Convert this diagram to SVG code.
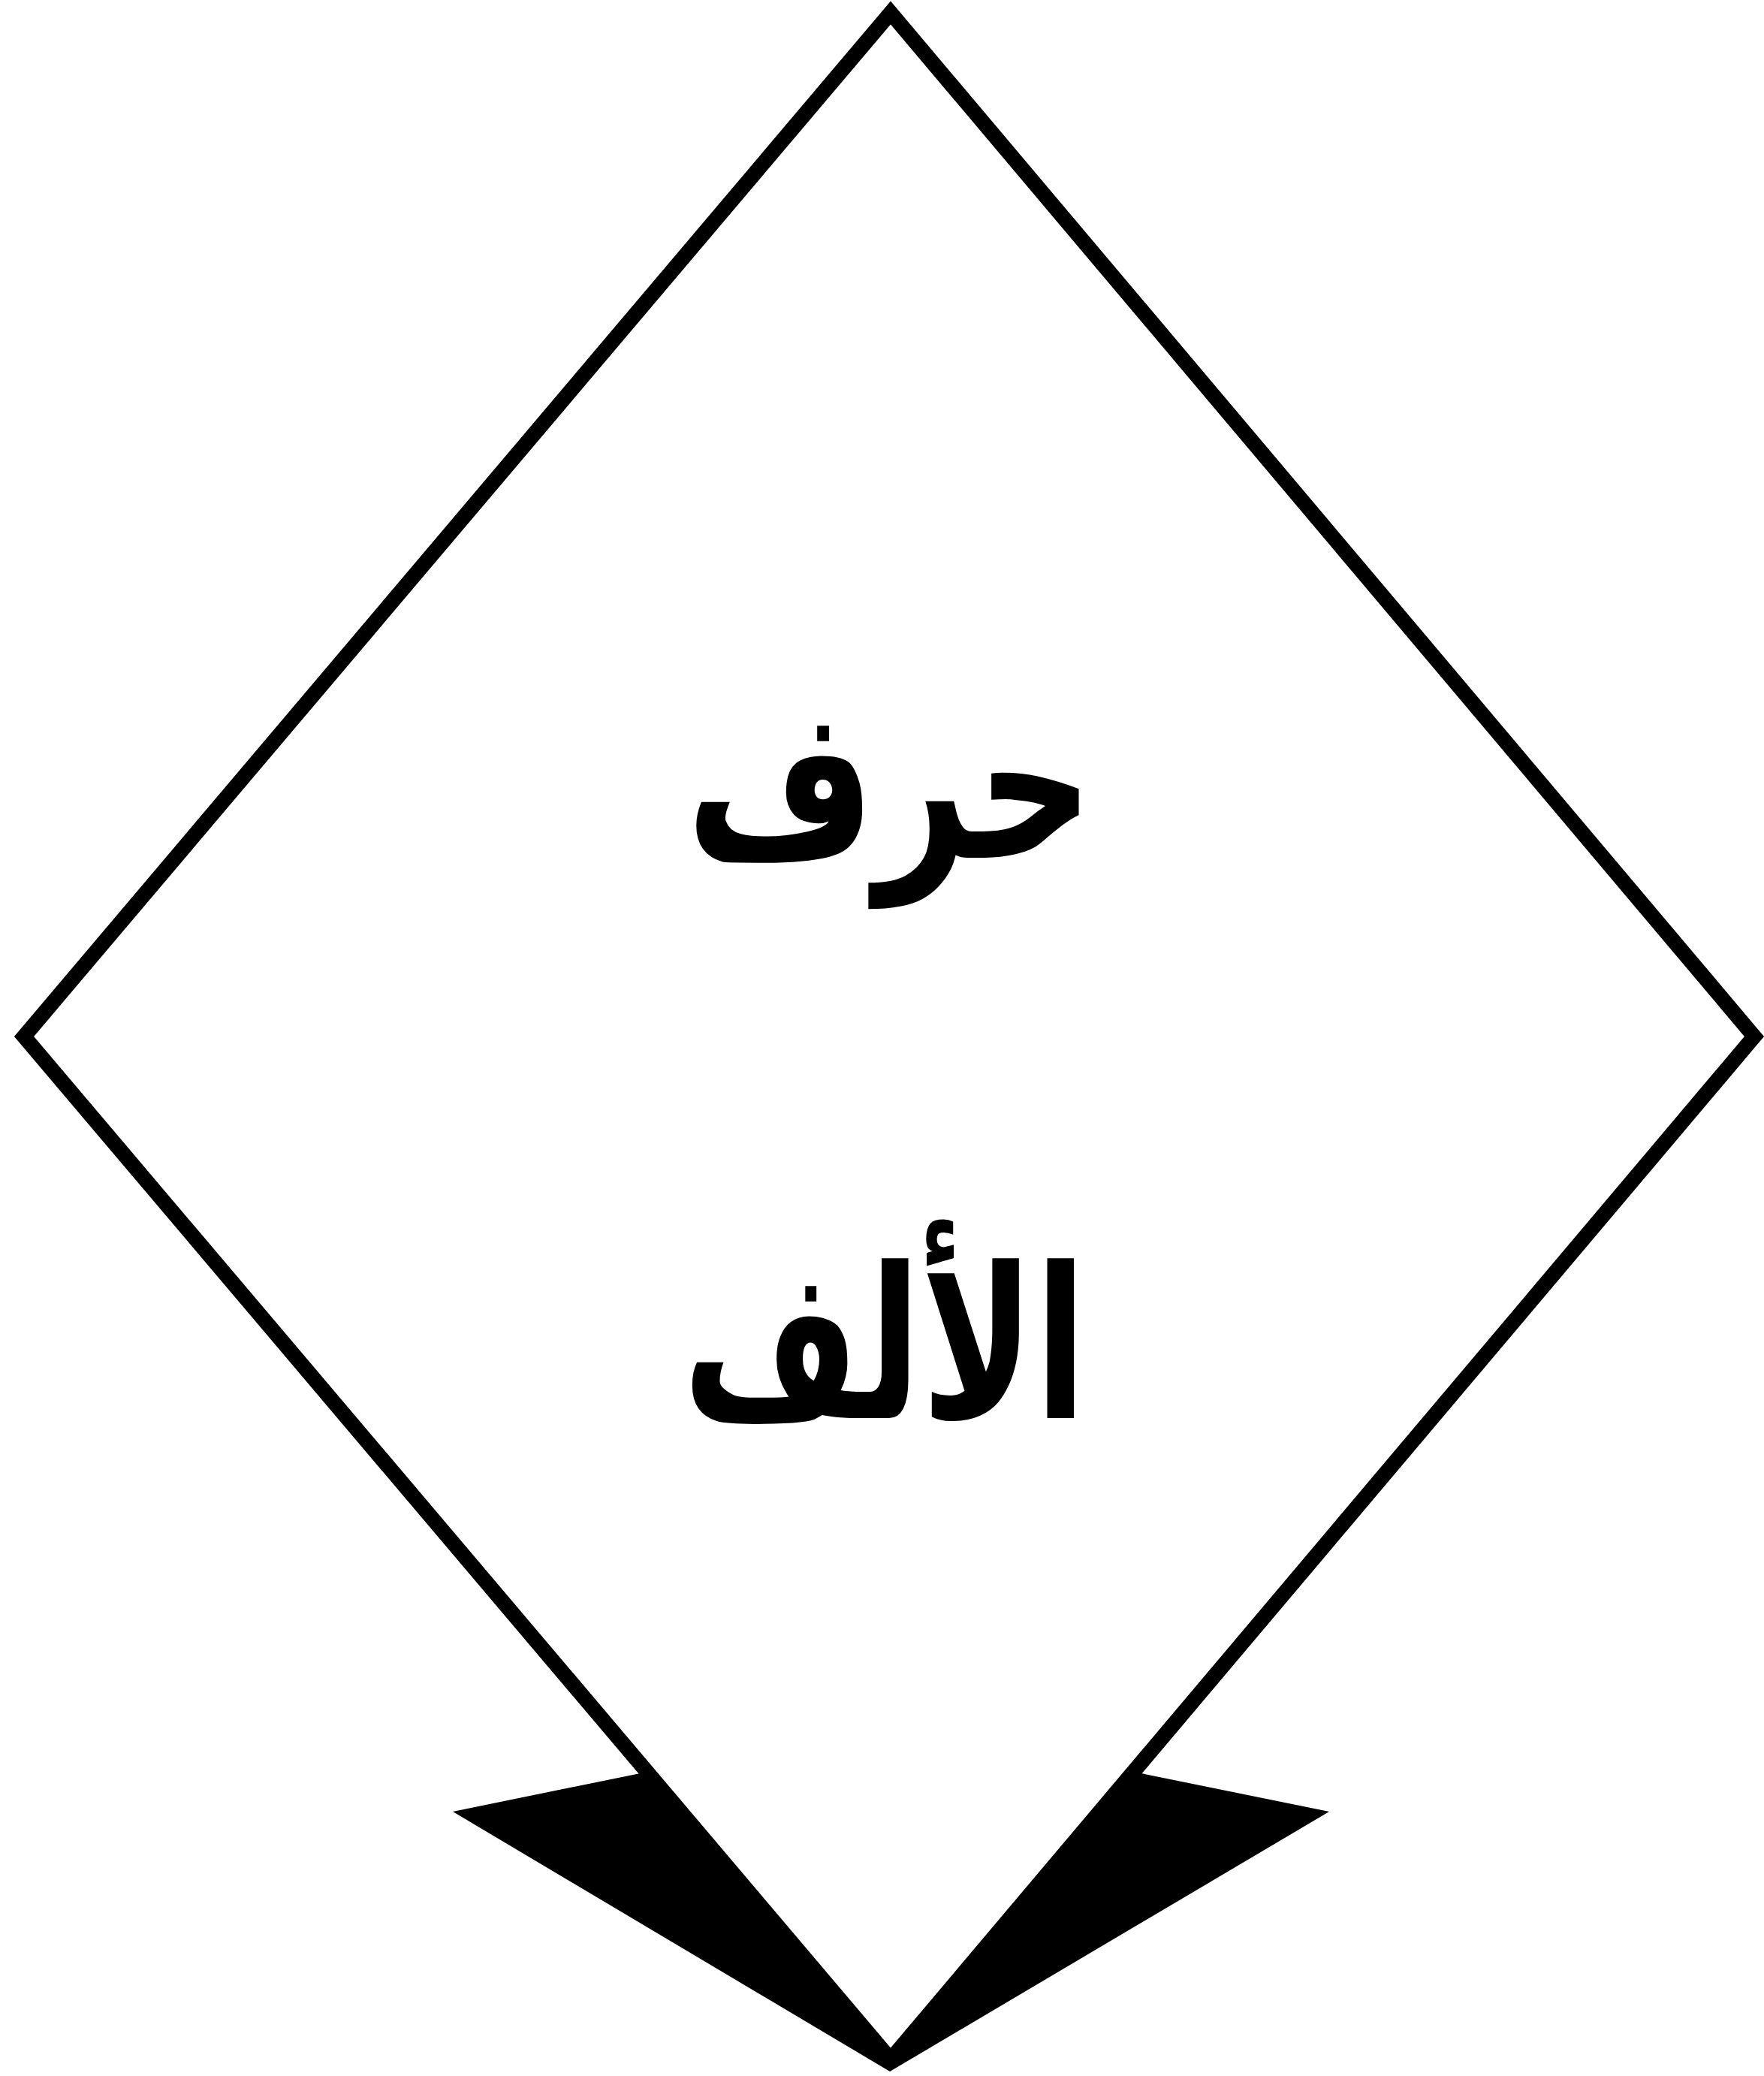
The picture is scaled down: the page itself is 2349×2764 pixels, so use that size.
<svg xmlns="http://www.w3.org/2000/svg" width="2349" height="2764" viewBox="0 0 2349 2764">
<style>
.lbl{font-family:"DejaVu Sans","Noto Sans",sans-serif;font-weight:bold;font-size:280px;fill:#000;text-anchor:middle}
</style>
<rect width="2349" height="2764" fill="#fff"/>
<g id="connectors">
<polygon points="603,2412 1185,2293 1770,2412 1185,2758" fill="#000"/>
</g>
<g id="node-diamond">
<polygon points="1186,17 2336,1380 1186,2742 32,1380" fill="#fff" stroke="#000" stroke-width="20" stroke-linejoin="miter"/>
<text class="lbl" x="1185" y="1142" direction="rtl" textLength="543" lengthAdjust="spacingAndGlyphs">حرف</text>
<text class="lbl" x="1178" y="1888" direction="rtl" textLength="538" lengthAdjust="spacingAndGlyphs">الألف</text>
</g>
</svg>
